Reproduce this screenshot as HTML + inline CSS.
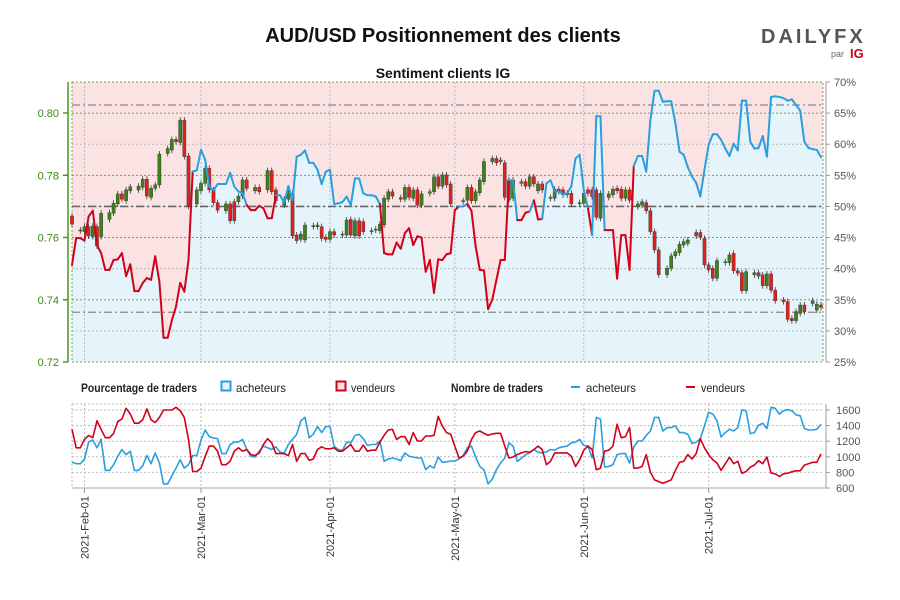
<!DOCTYPE html>
<html><head><meta charset="utf-8"><style>
html,body{margin:0;padding:0;background:#fff;}
svg{display:block;font-family:"Liberation Sans",sans-serif;}
</style></head><body>
<svg id="chart" width="900" height="600" viewBox="0 0 900 600">
<rect width="900" height="600" fill="#fff"/>
<text x="443" y="42" text-anchor="middle" font-size="20" font-weight="bold" fill="#111">AUD/USD Positionnement des clients</text>
<g>
<text x="761" y="43" font-size="20" font-weight="bold" fill="#555" letter-spacing="3">DAILYFX</text>
<text x="831" y="57" font-size="9" fill="#666">par</text>
<text x="850" y="58" font-size="13" font-weight="bold" fill="#d0021b">IG</text>
</g>
<text x="443" y="78" text-anchor="middle" font-size="14" font-weight="bold" fill="#111">Sentiment clients IG</text>
<g id="main"></g>
<g id="legend">
<text x="81" y="392" font-size="12" font-weight="bold" fill="#222" textLength="116" lengthAdjust="spacingAndGlyphs">Pourcentage de traders</text>
<rect x="221.5" y="381.5" width="9" height="9" fill="#e5f3fb" stroke="#2a9fe0" stroke-width="2"/>
<text x="236" y="392" font-size="12" fill="#222" textLength="50" lengthAdjust="spacingAndGlyphs">acheteurs</text>
<rect x="336.5" y="381.5" width="9" height="9" fill="#fbe3e4" stroke="#d0021b" stroke-width="2"/>
<text x="351" y="392" font-size="12" fill="#222" textLength="44" lengthAdjust="spacingAndGlyphs">vendeurs</text>
<text x="451" y="392" font-size="12" font-weight="bold" fill="#222" textLength="92" lengthAdjust="spacingAndGlyphs">Nombre de traders</text>
<line x1="571" y1="387" x2="580" y2="387" stroke="#2a9fe0" stroke-width="2"/>
<text x="586" y="392" font-size="12" fill="#222" textLength="50" lengthAdjust="spacingAndGlyphs">acheteurs</text>
<line x1="686" y1="387" x2="695" y2="387" stroke="#d0021b" stroke-width="2"/>
<text x="701" y="392" font-size="12" fill="#222" textLength="44" lengthAdjust="spacingAndGlyphs">vendeurs</text>
</g>
<g id="bottom"></g>
</svg>
<script>
// ---- data ----
const netLongPct = [
40.6,44.9,44.9,44.5,48.4,49.3,43.8,42.5,39.8,39.8,
41.4,41.5,42.5,38.8,40.7,36.4,36.4,37.7,38.5,38.2,
42.0,37.9,28.9,28.9,31.7,33.9,37.7,36.3,41.4,55.6,
55.8,59.1,57.5,53.2,52.6,53.6,53.6,53.6,55.4,53.2,
52.4,52.1,50.2,49.4,49.4,50.1,49.7,48.1,48.1,51.8,
51.8,50.6,53.3,51.0,58.0,58.3,59.0,57.0,57.0,55.9,
53.6,55.6,55.9,50.4,50.5,50.7,51.6,50.2,54.5,54.5,
52.1,51.8,51.8,51.6,50.4,42.5,42.3,42.3,44.2,43.2,
45.7,46.5,43.8,45.2,45.0,39.5,41.4,36.1,41.5,41.4,
42.3,42.5,49.4,50.0,
50.0,50.4,49.3,43.6,39.8,39.7,33.5,35.0,38.2,41.4,
41.4,54.2,54.2,47.8,47.8,49.0,49.2,51.0,47.9,48.0,
53.7,54.2,52.4,52.4,52.0,52.1,53.2,57.7,58.3,52.6,
49.7,45.4,64.5,64.5,46.2,46.2,46.2,38.4,45.4,45.4,
39.8,56.5,58.1,58.1,55.6,63.9,68.6,68.6,66.8,66.9,
66.9,63.4,58.8,58.3,56.3,54.8,53.8,51.6,55.9,59.9,
61.6,61.6,60.7,59.3,58.1,60.1,59.0,67.0,67.0,60.4,
59.3,59.4,61.3,58.0,67.6,67.7,67.6,67.4,67.0,67.2,
66.3,65.4,60.4,59.4,59.2,59.1,57.9];
const candleDay = [0,2,3,4,5,6,7,9,10,11,12,13,14,16,17,18,19,20,21,23,24,25,26,27,28,30,31,32,33,34,35,37,38,39,40,41,42,44,45,47,48,49,51,52,53,54,55,56,58,59,60,61,62,63,65,66,67,68,69,70,72,73,74,75,76,77,79,80,81,82,83,84,86,87,88,89,90,91,
94,95,96,97,98,99,101,102,103,104,105,106,108,109,110,111,112,113,115,116,117,118,119,120,122,123,124,125,126,127,129,130,131,132,133,134,136,137,138,139,140,141,143,144,145,146,147,148,150,151,152,153,154,155,157,158,159,160,161,162,164,165,166,167,168,169,171,172,173,174,175,176,178,179,180];
const opens = [.7669,.7624,.7619,.7635,.7603,.7635,.7603,.7658,.7678,.7708,.7740,.7718,.7750,.7753,.7761,.7787,.7729,.7758,.7769,.7870,.7881,.7915,.7905,.7977,.7862,.7708,.7750,.7774,.7822,.7753,.7712,.7686,.7708,.7715,.7715,.7733,.7785,.7750,.7761,.7753,.7815,.7753,.7704,.7723,.7742,.7608,.7594,.7592,.7635,.7635,.7635,.7601,.7594,.7619,.7608,.7608,.7658,.7605,.7654,.7651,.7619,.7624,.7622,.7640,.7723,.7747,.7728,.7723,.7761,.7726,.7753,.7704,.7742,.7747,.7795,.7765,.7801,.7772,
.7715,.7720,.7761,.7718,.7744,.7779,.7844,.7854,.7849,.7840,.7720,.7726,.7774,.7779,.7765,.7795,.7750,.7772,.7726,.7726,.7755,.7753,.7737,.7742,.7708,.7710,.7753,.7753,.7753,.7662,.7729,.7737,.7758,.7755,.7726,.7753,.7699,.7704,.7712,.7686,.7619,.7560,.7480,.7501,.7541,.7551,.7576,.7581,.7616,.7616,.7597,.7512,.7501,.7469,.7519,.7519,.7549,.7493,.7487,.7429,.7480,.7487,.7480,.7445,.7483,.7431,.7399,.7394,.7340,.7333,.7356,.7383,.7388,.7367,.7383];
const closes = [.7643,.7622,.7635,.7605,.7637,.7573,.7678,.7680,.7710,.7740,.7723,.7753,.7763,.7765,.7787,.7733,.7758,.7769,.7868,.7886,.7915,.7908,.7977,.7860,.7701,.7753,.7774,.7822,.7753,.7712,.7688,.7708,.7654,.7654,.7733,.7785,.7758,.7761,.7747,.7815,.7747,.7718,.7723,.7747,.7605,.7590,.7611,.7640,.7638,.7640,.7597,.7594,.7619,.7608,.7611,.7656,.7608,.7654,.7605,.7619,.7622,.7627,.7643,.7726,.7747,.7733,.7723,.7761,.7729,.7753,.7704,.7740,.7747,.7795,.7765,.7801,.7769,.7708,
.7718,.7761,.7718,.7747,.7785,.7844,.7854,.7840,.7844,.7729,.7785,.7785,.7779,.7765,.7795,.7772,.7772,.7753,.7729,.7755,.7747,.7737,.7742,.7708,.7712,.7742,.7742,.7731,.7665,.7742,.7740,.7755,.7750,.7726,.7753,.7720,.7708,.7715,.7686,.7619,.7560,.7480,.7501,.7541,.7554,.7578,.7587,.7592,.7605,.7601,.7512,.7496,.7469,.7526,.7522,.7544,.7493,.7485,.7429,.7490,.7487,.7476,.7445,.7483,.7431,.7397,.7394,.7337,.7333,.7362,.7383,.7362,.7397,.7386,.7376];
const buyersCount = [929,911,911,972,1189,1215,1115,1223,825,825,899,1007,1093,1028,1072,825,825,885,1015,911,1050,920,652,652,756,855,963,855,899,1015,1015,1215,1344,1258,1241,1232,1041,1041,1158,1189,1189,1223,1093,1007,998,1072,1137,1115,1093,1128,1059,1050,1158,1223,1288,1461,1505,1245,1288,1388,1310,1388,1388,1137,1093,1085,1189,1180,1275,1288,1232,1145,1158,1158,1202,942,972,985,972,950,1050,1007,998,985,985,834,885,855,998,929,
935,946,946,972,1015,1115,1137,998,877,834,652,713,834,920,985,1180,1137,942,981,1028,1050,1093,1059,1050,1063,1093,1085,1115,1128,1137,1180,1189,1223,1145,1137,985,1505,1483,868,877,899,1028,1041,1041,920,1124,1202,1202,1275,1331,1505,1505,1331,1375,1375,1396,1310,1310,1288,1171,1189,1232,1396,1570,1548,1461,1254,1310,1353,1331,1375,1600,1591,1297,1310,1405,1431,1362,1635,1622,1548,1591,1604,1591,1539,1526,1362,1344,1344,1353,1418];
const sellersCount = [1353,1115,1115,1223,1275,1245,1461,1353,1245,1245,1300,1453,1483,1622,1548,1431,1431,1474,1613,1474,1440,1505,1600,1600,1600,1635,1591,1505,1223,812,812,855,1007,1137,1137,1072,899,899,942,1072,1115,1072,1093,1028,1015,1050,1158,1232,1180,1041,1041,1041,1015,1158,942,1041,1041,955,972,1093,1128,1102,1102,1115,1072,1072,1115,1158,1072,1072,1150,1072,1085,1085,1189,1275,1344,1353,1223,1258,1258,1158,1310,1202,1202,1267,1267,1275,1518,1396,
1310,1288,1137,985,1007,1072,1223,1310,1331,1301,1275,1293,1301,1301,1137,985,998,1028,1050,1067,1059,1093,1137,1093,899,942,1050,1050,1050,1050,1007,877,963,1085,1137,1093,834,855,1072,1085,1137,1418,1245,1258,1375,855,855,877,1028,800,704,682,660,682,704,825,929,942,1028,972,1041,1232,1115,1028,963,920,825,911,994,911,942,790,812,868,894,950,911,998,790,782,747,782,790,808,821,821,894,911,929,929,1037];
const priceTicks = ["0.72","0.74","0.76","0.78","0.80"];
const priceTickValues = [0.72,0.74,0.76,0.78,0.80];
const pctTicks = [25,30,35,40,45,50,55,60,65,70];
const countTicks = [600,800,1000,1200,1400,1600];
const monthLabels = ["2021-Feb-01","2021-Mar-01","2021-Apr-01","2021-May-01","2021-Jun-01","2021-Jul-01"];
const monthDays = [3,31,62,92,123,153];
const refPct = [66.3,50,33];

// ---- geometry ----
const NS="http://www.w3.org/2000/svg";
const X0=72,X1=821,PT=82,PB=362,BT=404,BB=488;
const N=netLongPct.length;
const xDay=i=>X0+(X1-X0)*i/(N-1);
const yPct=p=>PB-(p-25)/45*(PB-PT);
const yPrice=p=>PB-(p-0.72)/0.08*(PB-113);
const yCount=c=>BB-(c-600)/1000*(BB-410);
function el(tag,attrs,parent){const e=document.createElementNS(NS,tag);for(const k in attrs)e.setAttribute(k,attrs[k]);parent.appendChild(e);return e;}
const main=document.getElementById('main'), bot=document.getElementById('bottom');

// background & fill
let r=el('rect',{x:X0,y:PT,width:823-X0,height:PB-PT,fill:'#fbe3e4'},main);


let pts=netLongPct.map((v,i)=>xDay(i).toFixed(1)+','+yPct(v).toFixed(1));
let fill=el('polygon',{points:X0+','+PB+' '+pts.join(' ')+' 823,'+yPct(netLongPct[N-1]).toFixed(1)+' 823,'+PB,fill:'#e5f3fb'},main);



// grid
pctTicks.forEach((t,k)=>{const y=yPct(t);const green=(t%10===5)||t===70||t===25;
 const g=el('line',{x1:X0,x2:823,y1:y,y2:y,stroke:green?'#6aa84f':'#bbb','stroke-width':1,'stroke-dasharray':'2,2'},main);
 
 
 const tk=el('line',{x1:826,x2:830,y1:y,y2:y,stroke:'#999'},main);
 
 
 const tx=el('text',{x:834,y:y+4,'font-size':11,fill:'#555'},main);tx.textContent=t+'%';
 
 
});
monthDays.forEach(d=>{const x=xDay(d);
 const g=el('line',{x1:x,x2:x,y1:PT,y2:PB,stroke:'#bbb','stroke-dasharray':'2,2'},main);
 
 
 const g2=el('line',{x1:x,x2:x,y1:BT,y2:BB,stroke:'#bbb','stroke-dasharray':'2,2'},bot);
 
 
});
let frame=el('rect',{x:X0,y:PT,width:823-X0,height:PB-PT,fill:'none',stroke:'#6aa84f','stroke-dasharray':'2,2'},main);


let ax=el('line',{x1:68,x2:68,y1:PT,y2:PB,stroke:'#4a9a1a','stroke-width':1.5},main);


let rax=el('line',{x1:826,x2:826,y1:PT,y2:PB,stroke:'#999'},main);


priceTickValues.forEach((v,k)=>{const y=yPrice(v);
 const tk=el('line',{x1:63,x2:68,y1:y,y2:y,stroke:'#4a9a1a','stroke-width':1.5},main);
 
 
 const tx=el('text',{x:59,y:y+4,'font-size':11,fill:'#3a8a10','text-anchor':'end'},main);tx.textContent=priceTicks[k];
 
 
});
refPct.forEach((p,k)=>{const y=yPct(p);
 const l=el('line',{x1:X0,x2:823,y1:y,y2:y,stroke:k===1?'#666':'#888','stroke-width':k===1?1.6:1.2,'stroke-dasharray':'8,3,2,3'},main);
 
 
});

// candles
candleDay.forEach((d,k)=>{const x=xDay(d),o=opens[k],c=closes[k];
 const yt=yPrice(Math.max(o,c)),yb=yPrice(Math.min(o,c));
 const w=el('line',{x1:x,x2:x,y1:yt-3,y2:yb+3,stroke:'#333','stroke-width':0.8},main);
 
 
 const b=el('rect',{x:x-1.6,y:yt,width:3.2,height:Math.max(1,yb-yt),fill:c>=o?'#3f7f1c':'#e02020',stroke:'#333','stroke-width':0.4},main);
 
 
});

// sentiment line, colored by side of 50%
for(let i=0;i<N-1;i++){const a=netLongPct[i],b=netLongPct[i+1];
 const col=((a+b)/2>=50)?'#2a9fe0':'#d0021b';
 const s=el('line',{x1:xDay(i),y1:yPct(a),x2:xDay(i+1),y2:yPct(b),stroke:col,'stroke-width':2,'stroke-linecap':'round'},main);
 
 
}

// bottom plot
countTicks.forEach(t=>{const y=yCount(t);
 if(t>600){const g=el('line',{x1:X0,x2:823,y1:y,y2:y,stroke:'#bbb','stroke-dasharray':'2,2'},bot);
 
 }
 const tk=el('line',{x1:826,x2:830,y1:y,y2:y,stroke:'#999'},bot);
 
 
 const tx=el('text',{x:836,y:y+4,'font-size':11,fill:'#555'},bot);tx.textContent=t;
 
 
});
let bt=el('line',{x1:X0,x2:823,y1:BT,y2:BT,stroke:'#bbb','stroke-dasharray':'2,2'},bot);


let bl=el('line',{x1:X0,x2:X0,y1:BT,y2:BB,stroke:'#bbb','stroke-dasharray':'2,2'},bot);


let bx=el('line',{x1:X0,x2:826,y1:BB,y2:BB,stroke:'#aaa'},bot);


let by=el('line',{x1:826,x2:826,y1:BT,y2:BB,stroke:'#999'},bot);


monthDays.forEach((d,k)=>{const x=xDay(d);
 const tk=el('line',{x1:x,x2:x,y1:BB,y2:BB+5,stroke:'#999'},bot);
 
 
 const tx=el('text',{x:0,y:0,'font-size':11,fill:'#333','text-anchor':'end',transform:'translate('+(x+4)+','+(BB+8)+') rotate(-90)'},bot);
 tx.textContent=monthLabels[k];
 
 
});
function countLine(arr,col,name){
 const p=el('polyline',{points:arr.map((v,i)=>xDay(i).toFixed(1)+','+yCount(v).toFixed(1)).join(' '),fill:'none',stroke:col,'stroke-width':1.6,'stroke-linejoin':'round'},bot);
 
 
}
countLine(buyersCount,'#2a9fe0','buyers-count-line');
countLine(sellersCount,'#d0021b','sellers-count-line');
</script>
</body></html>
